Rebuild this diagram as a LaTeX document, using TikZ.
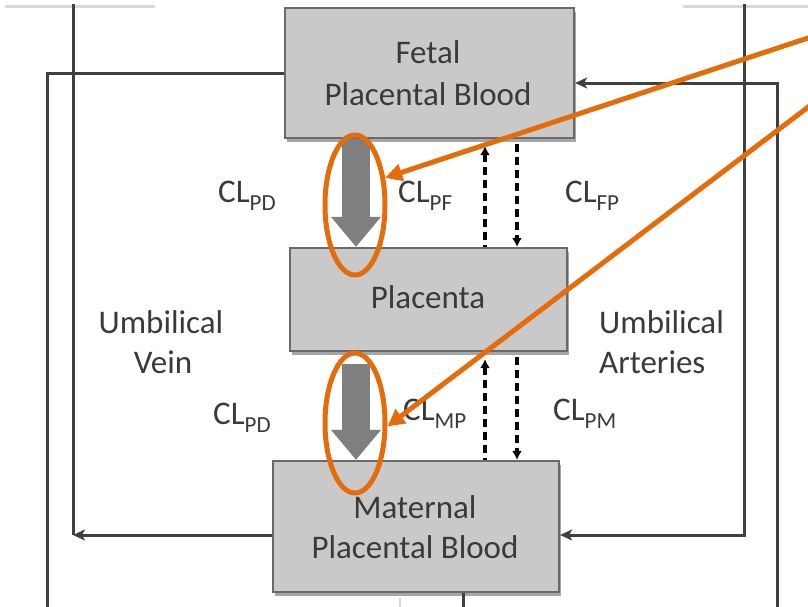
\documentclass[tikz,border=0pt]{standalone}
\usepackage{fontspec}
\setmainfont{Carlito}
\usetikzlibrary{arrows.meta,shapes.geometric,shadows}
\definecolor{boxfill}{HTML}{C9C9C9}
\definecolor{boxline}{HTML}{6A6A6A}
\definecolor{txt}{HTML}{3A3A3A}
\definecolor{conncol}{HTML}{404040}
\definecolor{bigarr}{HTML}{7F7F7F}
\definecolor{orng}{HTML}{E46C0A}
\definecolor{faint}{HTML}{D8D8D8}
\newcommand{\clsub}[1]{CL\raisebox{-8pt}{\fontsize{23}{23}\selectfont #1}}
\begin{document}
\begin{tikzpicture}[x=1pt,y=-1pt,
  box/.style={draw=boxline, line width=2.2pt, fill=boxfill, inner sep=0pt,
    drop shadow={shadow xshift=2pt, shadow yshift=-4pt, fill=black, opacity=0.35}},
  lbl/.style={text=txt, inner sep=0pt, font=\fontsize{33}{40}\selectfont},
  conn/.style={draw=conncol, line width=3pt},
  tip/.style={-{Stealth[length=12pt,width=11pt,inset=3pt]}},
  dsh/.style={draw=black, line width=3.5pt, dash pattern=on 8pt off 5pt},
  bigarrow/.style={draw=bigarr, line width=28pt, -{Triangle[length=30pt,width=48pt]}},
  annot/.style={draw=orng, line width=5pt},
  annotarrow/.style={draw=orng, line width=5pt, -{Triangle[length=17pt,width=17pt]}}
]
\useasboundingbox (0,0) rectangle (808,606);
\fill[white] (0,0) rectangle (808,606);

% faint remnants at the top
\draw[faint, line width=3pt] (5,6) -- (155,6);
\draw[faint, line width=3pt] (683,6) -- (812,6);

% boxes
\node[box, minimum width=289pt, minimum height=130pt] (fetal) at (429.5,73) {};
\node[box, minimum width=277pt, minimum height=103pt] (placenta) at (428.5,299.5) {};
\node[box, minimum width=286pt, minimum height=131pt] (maternal) at (416,526.5) {};

% outer connector coordinates
\coordinate (la) at (47,73);
\coordinate (lab) at (47,612);
\coordinate (lbtop) at (73,4);
\coordinate (lb) at (73,535);
\coordinate (ratop) at (744,4);
\coordinate (ra) at (744,535);
\coordinate (rb) at (777,83);
\coordinate (rbb) at (777,612);
\coordinate (s1) at (463,612);
\coordinate (s2) at (400,612);

\draw[conn] (fetal.west) -- (la) -- (lab);
\draw[conn] (lbtop) -- (lb);
\draw[conn, tip] (maternal.west |- lb) -- (lb);
\draw[conn, tip] (ratop) -- (ra) -- (maternal.east |- ra);
\draw[conn, tip] (rbb) -- (rb) -- (fetal.east |- rb);
\draw[conn] (maternal.south -| s1) -- (s1);
\draw[faint, line width=2.5pt] ([yshift=-5pt]maternal.south -| s2) -- (s2);

% big grey arrows
\coordinate (ba1) at (356,139);
\coordinate (ba2) at (356,364);
\draw[bigarrow] (ba1) -- (placenta.north -| ba1);
\draw[bigarrow] (ba2) -- (maternal.north -| ba2);

% dashed exchange lines
\coordinate (dl) at (485,0);
\coordinate (dr) at (517,0);
\draw[dsh, {Latex[length=9pt,width=10pt]}-] ([yshift=-7pt]fetal.south -| dl) -- (placenta.north -| dl);
\draw[dsh, -{Latex[length=9pt,width=10pt]}] ([yshift=-5pt]fetal.south -| dr) -- (placenta.north -| dr);
\draw[dsh, {Latex[length=9pt,width=10pt]}-] ([yshift=-7pt]placenta.south -| dl) -- (maternal.north -| dl);
\draw[dsh, -{Latex[length=9pt,width=10pt]}] ([yshift=-5pt]placenta.south -| dr) -- (maternal.north -| dr);

% box texts
\node[lbl, anchor=base] (t1) at (428,63) {Fetal};
\node[lbl, anchor=base] (t2) at (428,105) {Placental Blood};
\node[lbl, anchor=base] (t3) at (428,308) {Placenta};
\node[lbl, anchor=base] (t4) at (415,518) {Maternal};
\node[lbl, anchor=base] (t5) at (415,558) {Placental Blood};

% side labels
\node[lbl, anchor=base] (uv1) at (161,333) {Umbilical};
\node[lbl, anchor=base] (uv2) at (163,373) {Vein};
\node[lbl, anchor=base west] (ua1) at (599,333) {Umbilical};
\node[lbl, anchor=base west] (ua2) at (599,373) {Arteries};

% clearance labels
\node[lbl, anchor=base west] (c1) at (218,202) {\clsub{PD}};
\node[lbl, anchor=base west] (c2) at (398,202) {\clsub{PF}};
\node[lbl, anchor=base west] (c3) at (565,202) {\clsub{FP}};
\node[lbl, anchor=base west] (c4) at (213,424) {\clsub{PD}};
\node[lbl, anchor=base west] (c5) at (403,420) {\clsub{MP}};
\node[lbl, anchor=base west] (c6) at (553,420) {\clsub{PM}};

% orange annotations
\node[annot, ellipse, minimum width=60pt, minimum height=140pt, inner sep=0pt] (e1) at (355,205) {};
\node[annot, ellipse, minimum width=60pt, minimum height=140pt, inner sep=0pt] (e2) at (355,423) {};
\coordinate (o1) at (830,30.7);
\coordinate (o2) at (830,90.5);
\draw[annotarrow] (o1) -- (e1.42);
\draw[annotarrow] (o2) -- (e2.-6);
\end{tikzpicture}
\end{document}
